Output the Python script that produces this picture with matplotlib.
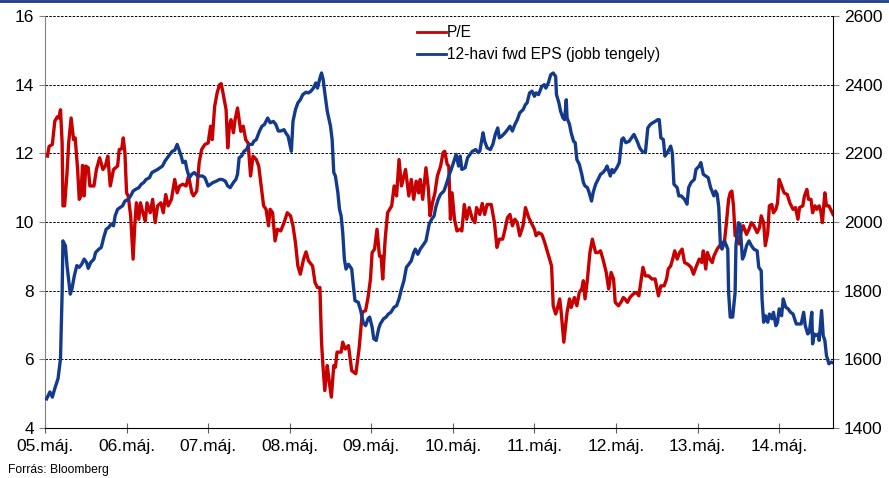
import matplotlib.pyplot as plt
from matplotlib.lines import Line2D

# years elapsed since May 2005
pe_t = [0.03, 0.05, 0.09, 0.12, 0.15, 0.17, 0.19, 0.21, 0.22, 0.24, 0.27, 0.29, 0.32, 0.35, 0.37,
        0.40, 0.42, 0.44, 0.46, 0.48, 0.50, 0.53, 0.55, 0.60, 0.63, 0.67, 0.71, 0.74, 0.77, 0.80,
        0.84, 0.89, 0.91, 0.94, 0.96, 0.98, 1.00, 1.02, 1.05, 1.08, 1.10, 1.12, 1.15, 1.17, 1.20,
        1.23, 1.25, 1.29, 1.32, 1.35, 1.38, 1.42, 1.45, 1.48, 1.51, 1.55, 1.59, 1.62, 1.65, 1.69,
        1.73, 1.76, 1.80, 1.82, 1.86, 1.89, 1.92, 1.96, 2.00, 2.03, 2.05, 2.08, 2.11, 2.14, 2.16,
        2.19, 2.22, 2.24, 2.26, 2.28, 2.31, 2.33, 2.36, 2.40, 2.43, 2.46, 2.49, 2.52, 2.55, 2.59,
        2.62, 2.65, 2.68, 2.71, 2.74, 2.76, 2.79, 2.82, 2.85, 2.89, 2.93, 2.97, 3.01, 3.04, 3.07,
        3.10, 3.13, 3.17, 3.20, 3.23, 3.28, 3.31, 3.34, 3.37, 3.39, 3.41, 3.43, 3.46, 3.48, 3.51,
        3.54, 3.56, 3.58, 3.63, 3.65, 3.68, 3.72, 3.76, 3.81, 3.85, 3.89, 3.93, 3.96, 3.99, 4.01,
        4.04, 4.07, 4.10, 4.12, 4.14, 4.17, 4.20, 4.25, 4.28, 4.31, 4.34, 4.37, 4.39, 4.42, 4.46,
        4.49, 4.52, 4.55, 4.58, 4.60, 4.63, 4.67, 4.70, 4.72, 4.75, 4.78, 4.81, 4.85, 4.88, 4.90,
        4.93, 4.95, 4.97, 4.99, 5.02, 5.05, 5.09, 5.11, 5.14, 5.17, 5.20, 5.24, 5.27, 5.29, 5.33,
        5.36, 5.39, 5.42, 5.47, 5.51, 5.54, 5.57, 5.61, 5.64, 5.67, 5.70, 5.73, 5.76, 5.79, 5.82,
        5.86, 5.89, 5.93, 5.96, 6.00, 6.02, 6.05, 6.09, 6.12, 6.15, 6.18, 6.21, 6.23, 6.26, 6.28,
        6.31, 6.33, 6.36, 6.38, 6.40, 6.43, 6.45, 6.49, 6.52, 6.55, 6.58, 6.60, 6.62, 6.65, 6.68,
        6.71, 6.75, 6.78, 6.81, 6.84, 6.88, 6.91, 6.94, 6.97, 6.99, 7.03, 7.06, 7.09, 7.11, 7.14,
        7.17, 7.21, 7.25, 7.28, 7.31, 7.33, 7.36, 7.40, 7.44, 7.48, 7.52, 7.55, 7.59, 7.62, 7.64,
        7.67, 7.70, 7.72, 7.75, 7.78, 7.81, 7.84, 7.88, 7.92, 7.95, 7.98, 8.02, 8.05, 8.07, 8.10,
        8.12, 8.15, 8.18, 8.20, 8.24, 8.27, 8.30, 8.33, 8.35, 8.38, 8.40, 8.42, 8.44, 8.46, 8.48,
        8.51, 8.53, 8.56, 8.60, 8.63, 8.66, 8.69, 8.73, 8.76, 8.78, 8.81, 8.83, 8.86, 8.88, 8.91,
        8.93, 8.96, 8.98, 9.00, 9.03, 9.06, 9.10, 9.13, 9.17, 9.20, 9.23, 9.25, 9.29, 9.31, 9.34,
        9.36, 9.39, 9.41, 9.44, 9.46, 9.49, 9.51, 9.53, 9.56, 9.58, 9.61, 9.63, 9.66]
pe_val = [11.92, 12.2, 12.26, 12.94, 13.06, 13.03, 13.27, 12.3, 10.47, 10.47, 11.43, 12.3, 13.03, 12.4, 12.45,
          11.53, 10.66, 10.76, 11.65, 10.76, 11.63, 11.58, 11.05, 11.05, 11.53, 11.87, 11.53, 11.63, 11.92, 11.05,
          11.53, 11.63, 12.11, 12.13, 12.45, 12.0, 10.85, 10.76, 10.18, 8.92, 9.89, 10.56, 10.08, 10.56, 10.27,
          10.03, 10.56, 10.27, 10.66, 9.98, 10.47, 10.56, 10.27, 10.8, 10.47, 10.66, 11.24, 10.85, 11.05, 11.1,
          11.05, 11.34, 10.85, 10.76, 10.9, 11.73, 12.11, 12.26, 12.3, 12.79, 12.4, 13.37, 13.76, 14.0, 14.03,
          13.66, 13.27, 12.16, 12.79, 12.98, 12.6, 12.98, 13.32, 12.64, 12.79, 12.4, 12.3, 11.34, 11.92, 11.82,
          11.63, 11.05, 10.47, 10.37, 9.89, 10.37, 10.27, 9.45, 9.79, 9.74, 9.98, 10.27, 10.18, 9.89, 9.4,
          8.72, 8.48, 8.92, 9.13, 8.87, 8.72, 8.24, 8.09, 8.09, 6.5, 5.72, 5.09, 5.82, 5.43, 4.9,
          5.82, 5.77, 6.21, 6.21, 6.5, 6.3, 6.4, 5.67, 5.58, 6.3, 7.37, 7.42, 7.8, 8.34, 9.11,
          9.21, 9.79, 9.01, 9.01, 8.34, 9.5, 10.27, 10.47, 11.05, 10.76, 11.82, 11.05, 11.24, 11.53, 10.76,
          11.24, 10.66, 11.19, 10.85, 11.24, 10.66, 11.58, 10.95, 10.18, 10.56, 10.85, 11.34, 11.63, 12.02, 12.06,
          11.68, 11.63, 10.08, 10.85, 10.08, 9.74, 9.79, 9.74, 10.51, 10.08, 10.42, 10.08, 9.98, 10.42, 10.22,
          10.54, 10.22, 10.51, 10.51, 9.98, 9.26, 9.5, 9.5, 9.79, 10.13, 10.22, 9.89, 10.08, 9.98, 9.6,
          9.89, 10.42, 10.13, 9.98, 9.79, 9.6, 9.69, 9.64, 9.45, 9.21, 8.97, 8.72, 7.56, 7.32, 7.47,
          7.76, 7.32, 6.5, 6.93, 7.37, 7.76, 7.51, 7.8, 7.56, 7.95, 8.05, 8.29, 7.76, 8.34, 9.11,
          9.5, 9.11, 9.11, 9.16, 8.92, 8.53, 8.05, 8.53, 8.34, 7.66, 7.56, 7.66, 7.8, 7.76, 7.66,
          7.8, 7.9, 7.95, 7.85, 8.34, 8.68, 8.43, 8.43, 8.34, 8.34, 7.85, 8.14, 8.14, 8.34, 8.63,
          8.72, 8.97, 9.16, 8.92, 9.11, 9.21, 8.82, 8.77, 8.68, 8.48, 8.68, 8.92, 8.82, 9.16, 8.63,
          9.11, 8.92, 8.82, 9.01, 9.21, 9.31, 9.36, 9.45, 9.89, 10.66, 10.85, 10.9, 10.47, 9.6, 9.6,
          9.36, 9.69, 9.89, 9.64, 9.79, 9.98, 9.89, 9.69, 9.84, 10.18, 9.98, 9.31, 9.69, 10.47, 10.51,
          10.27, 10.37, 10.56, 11.24, 11.05, 10.85, 10.8, 10.56, 10.37, 10.42, 10.08, 10.42, 10.47, 10.76, 10.95,
          10.66, 10.66, 10.27, 10.47, 10.37, 10.47, 10.32, 9.98, 10.85, 10.47, 10.47, 10.37, 10.22]

eps_t = [0.02, 0.06, 0.09, 0.12, 0.16, 0.19, 0.21, 0.22, 0.25, 0.27, 0.31, 0.33, 0.36, 0.39, 0.42,
         0.45, 0.48, 0.51, 0.53, 0.56, 0.60, 0.62, 0.66, 0.69, 0.72, 0.75, 0.78, 0.81, 0.84, 0.86,
         0.89, 0.92, 0.95, 0.98, 1.02, 1.05, 1.08, 1.11, 1.15, 1.18, 1.21, 1.24, 1.28, 1.31, 1.34,
         1.38, 1.41, 1.44, 1.47, 1.50, 1.53, 1.56, 1.59, 1.62, 1.65, 1.67, 1.69, 1.72, 1.74, 1.77,
         1.80, 1.83, 1.87, 1.90, 1.93, 1.96, 2.00, 2.03, 2.06, 2.10, 2.14, 2.17, 2.21, 2.24, 2.27,
         2.31, 2.34, 2.36, 2.38, 2.41, 2.44, 2.47, 2.50, 2.54, 2.56, 2.59, 2.63, 2.66, 2.69, 2.73,
         2.76, 2.80, 2.83, 2.86, 2.89, 2.93, 2.95, 2.98, 3.02, 3.04, 3.07, 3.10, 3.13, 3.16, 3.20,
         3.23, 3.26, 3.29, 3.32, 3.34, 3.37, 3.39, 3.41, 3.43, 3.46, 3.50, 3.52, 3.54, 3.56, 3.59,
         3.61, 3.63, 3.65, 3.67, 3.69, 3.72, 3.76, 3.78, 3.80, 3.84, 3.87, 3.90, 3.93, 3.96, 3.98,
         4.01, 4.03, 4.06, 4.09, 4.11, 4.15, 4.18, 4.21, 4.24, 4.28, 4.31, 4.34, 4.37, 4.40, 4.43,
         4.46, 4.49, 4.52, 4.54, 4.57, 4.60, 4.63, 4.67, 4.69, 4.71, 4.74, 4.77, 4.79, 4.82, 4.85,
         4.89, 4.92, 4.95, 4.98, 5.02, 5.04, 5.07, 5.09, 5.11, 5.15, 5.18, 5.21, 5.24, 5.28, 5.31,
         5.33, 5.37, 5.39, 5.42, 5.46, 5.49, 5.52, 5.55, 5.57, 5.60, 5.64, 5.67, 5.70, 5.73, 5.76,
         5.79, 5.82, 5.86, 5.89, 5.91, 5.94, 5.97, 6.00, 6.02, 6.05, 6.09, 6.12, 6.14, 6.17, 6.20,
         6.23, 6.26, 6.27, 6.30, 6.32, 6.35, 6.37, 6.39, 6.40, 6.43, 6.45, 6.48, 6.50, 6.52, 6.55,
         6.58, 6.60, 6.62, 6.65, 6.67, 6.70, 6.72, 6.75, 6.78, 6.81, 6.84, 6.87, 6.89, 6.93, 6.95,
         6.97, 7.01, 7.04, 7.07, 7.09, 7.12, 7.16, 7.19, 7.22, 7.26, 7.29, 7.32, 7.36, 7.39, 7.42,
         7.45, 7.48, 7.51, 7.53, 7.55, 7.58, 7.60, 7.63, 7.67, 7.69, 7.71, 7.75, 7.77, 7.80, 7.84,
         7.87, 7.89, 7.92, 7.96, 7.98, 8.02, 8.04, 8.07, 8.10, 8.13, 8.16, 8.20, 8.22, 8.24, 8.26,
         8.28, 8.30, 8.33, 8.37, 8.38, 8.40, 8.43, 8.46, 8.47, 8.50, 8.52, 8.55, 8.57, 8.60, 8.63,
         8.66, 8.69, 8.73, 8.75, 8.78, 8.79, 8.81, 8.83, 8.86, 8.88, 8.91, 8.93, 8.96, 8.98, 9.00,
         9.03, 9.05, 9.08, 9.11, 9.14, 9.17, 9.21, 9.24, 9.27, 9.30, 9.32, 9.35, 9.37, 9.40, 9.41,
         9.43, 9.45, 9.48, 9.49, 9.52, 9.54, 9.56, 9.58, 9.61, 9.64, 9.66]
eps_val = [1485, 1505, 1490, 1515, 1544, 1602, 1795, 1945, 1931, 1873, 1790, 1805, 1844, 1873, 1868,
           1877, 1892, 1882, 1865, 1882, 1892, 1911, 1921, 1926, 1955, 1979, 1984, 1994, 1989, 2018,
           2037, 2042, 2047, 2061, 2066, 2076, 2090, 2095, 2100, 2110, 2115, 2124, 2129, 2144, 2148,
           2153, 2158, 2163, 2177, 2187, 2197, 2206, 2209, 2226, 2206, 2192, 2173, 2177, 2153, 2129,
           2139, 2144, 2134, 2134, 2134, 2129, 2105, 2110, 2115, 2119, 2124, 2124, 2119, 2105, 2100,
           2115, 2124, 2139, 2187, 2192, 2206, 2211, 2226, 2226, 2235, 2240, 2265, 2279, 2284, 2303,
           2289, 2293, 2284, 2265, 2265, 2269, 2260, 2250, 2206, 2293, 2327, 2347, 2356, 2371, 2378,
           2376, 2381, 2390, 2405, 2390, 2419, 2434, 2415, 2376, 2323, 2279, 2240, 2144, 2134, 2086,
           2037, 2018, 1969, 1892, 1863, 1877, 1863, 1815, 1771, 1766, 1742, 1708, 1698, 1718, 1723,
           1694, 1660, 1655, 1689, 1703, 1718, 1723, 1732, 1737, 1752, 1756, 1776, 1805, 1829, 1868,
           1877, 1887, 1911, 1921, 1906, 1921, 1931, 1945, 1969, 1994, 2008, 2018, 2042, 2066, 2081,
           2090, 2110, 2134, 2153, 2182, 2197, 2163, 2192, 2153, 2158, 2187, 2197, 2206, 2211, 2202,
           2206, 2260, 2235, 2216, 2211, 2226, 2255, 2274, 2245, 2250, 2260, 2269, 2279, 2265, 2284,
           2298, 2318, 2327, 2342, 2347, 2376, 2381, 2366, 2376, 2371, 2395, 2400, 2390, 2405, 2429,
           2434, 2424, 2371, 2347, 2323, 2303, 2298, 2356, 2303, 2284, 2260, 2235, 2231, 2182, 2168,
           2139, 2115, 2105, 2100, 2086, 2061, 2086, 2110, 2124, 2139, 2144, 2153, 2163, 2134, 2153,
           2144, 2158, 2173, 2240, 2245, 2231, 2235, 2245, 2255, 2235, 2216, 2206, 2202, 2274, 2284,
           2289, 2293, 2298, 2298, 2245, 2240, 2192, 2202, 2221, 2202, 2110, 2100, 2076, 2076, 2066,
           2052, 2100, 2115, 2124, 2153, 2163, 2173, 2139, 2134, 2129, 2100, 2076, 2090, 2081, 2042,
           1931, 1921, 1945, 1921, 1795, 1723, 1723, 1795, 1931, 1998, 1994, 1892, 1902, 1931, 1945,
           1931, 1921, 1916, 1868, 1858, 1776, 1708, 1727, 1708, 1732, 1718, 1737, 1698, 1708, 1747,
           1727, 1776, 1752, 1747, 1737, 1732, 1703, 1703, 1703, 1737, 1698, 1674, 1679, 1737, 1645,
           1674, 1669, 1674, 1655, 1742, 1669, 1655, 1611, 1587, 1592, 1590]

x_labels = ['05.máj.', '06.máj.', '07.máj.', '08.máj.', '09.máj.',
            '10.máj.', '11.máj.', '12.máj.', '13.máj.', '14.máj.']

RED = '#c80000'
BLUE = '#143a8c'

plt.rcParams['font.family'] = ['Liberation Sans', 'DejaVu Sans']

fig = plt.figure(figsize=(8.89, 4.78), dpi=100)
ax = fig.add_axes([45 / 889, 1 - 428 / 478, 788 / 889, 412 / 478])
ax2 = ax.twinx()

ax.plot(pe_t, pe_val, color=RED, lw=2.4, solid_joinstyle='round', zorder=3)
ax2.plot(eps_t, eps_val, color=BLUE, lw=2.4, solid_joinstyle='round', zorder=3)

ax.set_xlim(0, 9.66)
ax.set_ylim(4, 16)
ax2.set_ylim(1400, 2600)
ax.set_yticks(range(4, 17, 2))
ax2.set_yticks(range(1400, 2601, 200))
ax.set_xticks(range(len(x_labels)))
ax.set_xticklabels(x_labels)

ax.grid(axis='y', color='black', linestyle=(0, (2.5, 1.5)), linewidth=0.7)
ax.set_axisbelow(True)

for a in (ax, ax2):
    a.spines['top'].set_visible(False)
ax.spines['left'].set_color('#808080')
ax.spines['right'].set_visible(False)
ax2.spines['left'].set_visible(False)
ax2.spines['bottom'].set_visible(False)
ax2.spines['right'].set_color('black')

ax.tick_params(axis='y', labelsize=12.5, length=4, color='#808080', pad=4)
ax.tick_params(axis='x', labelsize=12.5, length=6.5, direction='inout', color='#606060', pad=5)
ax2.tick_params(axis='y', labelsize=12.5, length=4, color='#808080', pad=4)

handles = [Line2D([], [], color=RED, lw=2.0), Line2D([], [], color=BLUE, lw=2.0)]
ax.legend(handles, ['P/E', '12-havi fwd EPS (jobb tengely)'], loc='upper left',
          bbox_to_anchor=(0.46, 1.0), frameon=False, fontsize=11.2, handlelength=1.9,
          handletextpad=0.05, labelspacing=0.45, borderaxespad=0.2)

fig.text(8 / 889, 1 - 470 / 478, 'Forrás: Bloomberg', fontsize=8.7, va='center')
fig.add_artist(Line2D([0, 1], [0.998, 0.998], color='#1f3c88', lw=2, transform=fig.transFigure))

fig.savefig('out.png', dpi=100)
